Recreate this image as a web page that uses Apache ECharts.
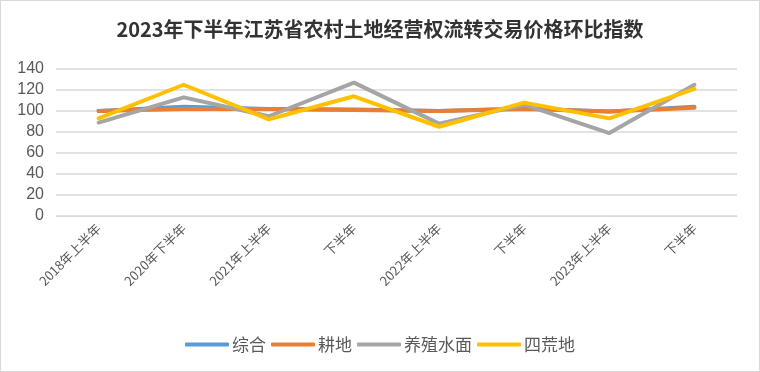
<!DOCTYPE html>
<html>
<head>
<meta charset="utf-8">
<script src="https://cdn.jsdelivr.net/npm/echarts@6/dist/echarts.min.js"></script>
<style>
html,body{margin:0;padding:0;background:#fff;}
#chart{width:758px;height:370px;border:1px solid #d9d9d9;}
</style>
</head>
<body>
<div id="chart"></div>
<script>
const categories = ['2018年上半年','2020年下半年','2021年上半年','下半年','2022年上半年','下半年','2023年上半年','下半年'];
const zonghe = [100, 104, 102, 101.5, 100, 102.5, 99.5, 104];
const gengdi = [100, 102, 102, 101, 100, 102, 99.5, 103];
const yangzhi = [89, 113, 95, 127, 88, 106, 79, 125];
const sihuang = [93, 125, 92, 114, 85, 108, 93, 121];
const yTicks = [0, 20, 40, 60, 80, 100, 120, 140];

const chart = echarts.init(document.getElementById('chart'), null, {renderer:'canvas'});
const cjk = '"Noto Sans CJK SC", "Liberation Sans", sans-serif';
function line(name, data, color){
  return {name, type:'line', data, symbol:'none', smooth:false,
    lineStyle:{width:4, color, cap:'round', join:'round'}, itemStyle:{color}};
}
chart.setOption({
  animation:false,
  title:{text:'2023年下半年江苏省农村土地经营权流转交易价格环比指数', left:'center', top:13,
    textStyle:{fontFamily:cjk, fontSize:20, fontWeight:'bold', color:'#333'}},
  grid:{left:55, right:22, top:68, bottom:155, containLabel:false},
  legend:{bottom:13, left:'center', itemWidth:44, itemHeight:4, itemGap:5,
    icon:'roundRect',
    textStyle:{fontFamily:cjk, fontSize:17, color:'#595959', padding:[0,0,0,-2]},
    data:['综合','耕地','养殖水面','四荒地']},
  xAxis:{type:'category', data:categories, boundaryGap:true,
    axisLine:{show:true, lineStyle:{color:'#d9d9d9', width:1}},
    axisTick:{show:false},
    axisLabel:{rotate:45, fontFamily:cjk, fontSize:13, color:'#595959', interval:0, margin:10}},
  yAxis:{type:'value', min:yTicks[0], max:yTicks[yTicks.length-1], interval:20,
    axisLine:{show:false}, axisTick:{show:false},
    axisLabel:{fontFamily:'"Liberation Sans", sans-serif', fontSize:16, color:'#595959', margin:12},
    splitLine:{lineStyle:{color:'#d9d9d9', width:1.5}}},
  series:[
    line('综合', zonghe, '#5B9BD5'),
    line('耕地', gengdi, '#ED7D31'),
    line('养殖水面', yangzhi, '#A5A5A5'),
    line('四荒地', sihuang, '#FFC000')
  ]
});
</script>
</body>
</html>
